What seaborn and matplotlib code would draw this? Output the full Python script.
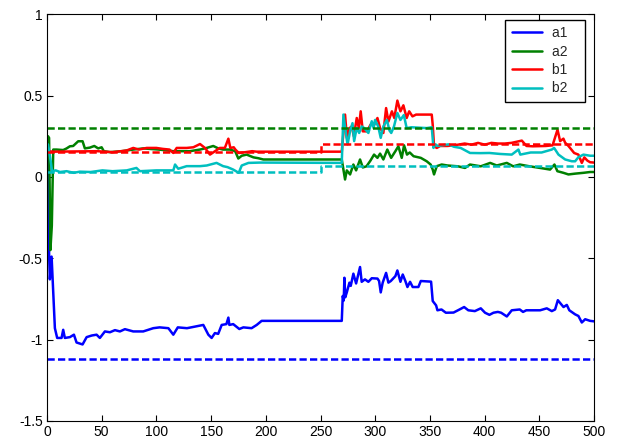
import numpy as np
import pandas as pd
import matplotlib
matplotlib.use("Agg")
import matplotlib.pyplot as plt
import seaborn as sns

# ---- estimated parameter traces ----
a1_x = [1, 2, 2.7, 4.3, 7.3, 9.4, 13.4, 14.9, 16.4, 21, 24.7, 27.1, 32.6, 36.3, 41, 45.4, 48.4, 53,
        57.6, 62.2, 66.7, 71.3, 78.9, 88, 97.2, 103, 111, 115.5, 119.6, 128, 135.5, 142.9, 147.5,
        150.5, 153.5, 156.5, 159.7, 164, 165.8, 166.7, 170.2, 175.8, 179.5, 187, 191.7, 196.2,
        269.4, 270.3, 271.2, 271.8, 272.6, 274, 276.4, 277.6, 280, 282.5, 286.1, 287.6, 290.6,
        293.7, 296.8, 302, 303.5, 305, 306.8, 309.9, 312, 314.2, 318.4, 320.2, 323, 325.1, 327.5,
        329.4, 331.8, 334.2, 339.4, 341.6, 351, 352.5, 355.6, 356.8, 360.5, 364.5, 371.5, 377,
        381.2, 385, 391, 396.4, 400.3, 404.3, 408, 412, 415, 420.2, 424.7, 432, 435, 438, 444,
        450.6, 456.7, 461.3, 464.3, 466.8, 469.5, 472, 475, 477.3, 482.6, 485.6, 488.7, 491.8,
        496.3, 500]
a1_y = [0.10, -0.47, -0.63, -0.49, -0.93, -0.99, -0.99, -0.94, -0.99, -0.985, -0.97, -1.018,
        -1.03, -0.985, -0.975, -0.97, -0.99, -0.95, -0.955, -0.942, -0.95, -0.936, -0.95, -0.95,
        -0.93, -0.925, -0.93, -0.97, -0.925, -0.93, -0.92, -0.91, -0.97, -0.99, -0.96, -0.965,
        -0.91, -0.905, -0.865, -0.91, -0.905, -0.935, -0.925, -0.93, -0.91, -0.885,
        -0.885, -0.732, -0.76, -0.62, -0.74, -0.71, -0.65, -0.67, -0.595, -0.655, -0.554, -0.645,
        -0.63, -0.645, -0.623, -0.625, -0.64, -0.71, -0.65, -0.59, -0.65, -0.64, -0.61, -0.575,
        -0.645, -0.6, -0.64, -0.677, -0.645, -0.677, -0.677, -0.64, -0.644, -0.763, -0.79, -0.82,
        -0.815, -0.835, -0.834, -0.815, -0.8, -0.82, -0.825, -0.808, -0.835, -0.848, -0.835,
        -0.83, -0.835, -0.858, -0.82, -0.815, -0.83, -0.82, -0.82, -0.82, -0.808, -0.825, -0.815,
        -0.758, -0.78, -0.8, -0.787, -0.82, -0.845, -0.855, -0.895, -0.875, -0.885, -0.888]

a2_x = [1, 2, 3.2, 4.5, 5.8, 8.8, 14.9, 18, 21, 24, 28.6, 32.6, 34.7, 39.3, 43.3, 46.9, 50, 52,
        57.6, 68.5, 78.9, 88, 102.2, 115.5, 130.7, 139.9, 146, 152, 156.6, 161, 167.3, 172,
        174.9, 178, 182.5, 188.7, 193, 197.7, 269.4, 272.4, 274, 277, 280, 282.5, 286.1, 288.6,
        292, 295.6, 298.9, 302, 304.4, 307.4, 311, 314.5, 318.4, 321.1, 324.2, 326.3, 329, 331.5,
        335, 341.6, 347, 350.6, 352.5, 353.7, 356.2, 360.7, 366, 375.6, 382, 386.5, 396.4, 405,
        411, 420.2, 426, 432, 441, 450.6, 459.7, 463.7, 466.4, 471.9, 476.5, 482.6, 490.2,
        496.3, 500]
a2_y = [0.25, 0.24, -0.45, -0.3, 0.168, 0.168, 0.165, 0.175, 0.188, 0.19, 0.219, 0.219, 0.175,
        0.18, 0.19, 0.175, 0.182, 0.158, 0.152, 0.158, 0.168, 0.175, 0.168, 0.158, 0.158, 0.168,
        0.178, 0.19, 0.175, 0.168, 0.168, 0.158, 0.113, 0.13, 0.137, 0.12, 0.115, 0.107, 0.107,
        -0.016, 0.04, 0.015, 0.076, 0.04, 0.107, 0.058, 0.065, 0.1, 0.137, 0.117, 0.143, 0.107,
        0.168, 0.117, 0.158, 0.188, 0.117, 0.194, 0.137, 0.15, 0.127, 0.117, 0.096, 0.076,
        0.045, 0.015, 0.066, 0.076, 0.07, 0.065, 0.055, 0.076, 0.065, 0.086, 0.07, 0.086, 0.065,
        0.076, 0.065, 0.055, 0.045, 0.076, 0.035, 0.025, 0.015, 0.02, 0.025, 0.03, 0.03]

b1_x = [1, 6, 46, 60, 72.7, 78.9, 84, 91.2, 100, 106, 112, 115.5, 118.6, 127.7, 133.8, 139.9,
        144.4, 149, 153.6, 158, 162.6, 165.8, 167.6, 170.7, 172.2, 175.3, 181.4, 187.5, 191.7,
        269.4, 272.4, 274.1, 276.5, 278.6, 280.4, 283.1, 285, 286.7, 288.6, 292.5, 295.6, 299,
        302, 304.4, 307.4, 309.9, 312, 315.2, 317.4, 320.2, 323, 325.7, 328.7, 331, 334, 337.3,
        351.6, 352.5, 353.7, 356.2, 359.3, 365.8, 371.9, 375.6, 381.7, 387.8, 393.9, 400, 406.1,
        412.2, 418.3, 424.4, 433.9, 438.2, 444, 455.8, 462, 466.5, 468.9, 471.9, 473.5, 476.5,
        481.7, 485.6, 488.7, 491, 493.8, 496.3, 500]
b1_y = [0.158, 0.155, 0.158, 0.152, 0.162, 0.178, 0.168, 0.178, 0.178, 0.172, 0.168, 0.147,
        0.178, 0.178, 0.182, 0.202, 0.178, 0.137, 0.158, 0.178, 0.178, 0.235, 0.178, 0.182,
        0.168, 0.147, 0.152, 0.158, 0.155, 0.155, 0.383, 0.24, 0.3, 0.31, 0.25, 0.362, 0.3,
        0.403, 0.28, 0.28, 0.32, 0.32, 0.362, 0.3, 0.27, 0.423, 0.34, 0.403, 0.362, 0.469, 0.403,
        0.44, 0.362, 0.403, 0.372, 0.383, 0.383, 0.32, 0.188, 0.178, 0.19, 0.19, 0.194, 0.198,
        0.205, 0.198, 0.209, 0.198, 0.209, 0.205, 0.205, 0.209, 0.223, 0.19, 0.188, 0.19, 0.194,
        0.29, 0.22, 0.235, 0.21, 0.19, 0.147, 0.137, 0.086, 0.12, 0.1, 0.09, 0.088]

b2_x = [1, 3.5, 4.7, 8, 12, 18, 24.6, 30, 40, 50.7, 60, 73, 81.8, 85, 100, 115.5, 117.1, 120,
        127.7, 139.9, 146, 155, 161, 165, 170.2, 175.3, 178, 184.2, 194.9, 269.4, 270.9, 273.3,
        274.7, 277, 279.2, 280.7, 283, 285.3, 287.6, 290, 293.7, 296.8, 298.5, 299.8, 302.7,
        305, 307.4, 310.6, 313, 314.6, 317.1, 320.2, 323, 326.1, 328.7, 333, 347, 351.6, 353.2,
        355, 357, 366.9, 372, 378, 386.6, 396, 404.3, 414, 424.7, 430.8, 432.5, 442, 452, 461.3,
        463.4, 467.4, 473.5, 479.6, 482.6, 485.6, 490.2, 496.3, 500]
b2_y = [0.2, 0.096, 0.035, 0.04, 0.03, 0.035, 0.025, 0.032, 0.03, 0.04, 0.035, 0.04, 0.055,
        0.035, 0.04, 0.04, 0.076, 0.05, 0.066, 0.066, 0.07, 0.086, 0.066, 0.06, 0.045, 0.025,
        0.07, 0.086, 0.088, 0.086, 0.383, 0.26, 0.2, 0.28, 0.33, 0.22, 0.3, 0.27, 0.31, 0.3,
        0.27, 0.342, 0.3, 0.35, 0.31, 0.24, 0.31, 0.35, 0.285, 0.27, 0.31, 0.393, 0.35, 0.38,
        0.3, 0.305, 0.3, 0.305, 0.178, 0.2, 0.19, 0.2, 0.185, 0.178, 0.147, 0.146, 0.147, 0.141,
        0.137, 0.168, 0.137, 0.15, 0.15, 0.168, 0.178, 0.137, 0.107, 0.096, 0.096, 0.121, 0.137,
        0.13, 0.13]

# ---- reference (true) values, piecewise constant ----
ref_x = [0, 250, 500]
a1_ref = [-1.12, -1.12, -1.12]
a2_ref = [0.30, 0.30, 0.30]
b1_ref = [0.15, 0.20, 0.20]
b2_ref = [0.03, 0.07, 0.07]

labels = ["a1", "a2", "b1", "b2"]
colors = ["#0000ff", "#008000", "#ff0000", "#00bfbf"]
x_ticks = [0, 50, 100, 150, 200, 250, 300, 350, 400, 450, 500]
y_ticks = [-1.5, -1, -0.5, 0, 0.5, 1]
y_ticklabels = ["-1.5", "-1", "-0.5", "0", "0.5", "1"]

sns.set_theme(style="ticks")
plt.rcParams["font.family"] = ["Liberation Sans", "DejaVu Sans"]
plt.rcParams["xtick.direction"] = "in"
plt.rcParams["ytick.direction"] = "in"

fig = plt.figure(figsize=(6.17, 4.44), dpi=100)
ax = fig.add_axes([0.076, 0.052, 0.887, 0.916])

series = [(a1_x, a1_y), (a2_x, a2_y), (b1_x, b1_y), (b2_x, b2_y)]
refs = [a1_ref, a2_ref, b1_ref, b2_ref]

for (xs, ys), lab, col in zip(series, labels, colors):
    sns.lineplot(x=xs, y=ys, color=col, label=lab, linewidth=1.8,
                 estimator=None, sort=False, ax=ax)

for ry, col in zip(refs, colors):
    sns.lineplot(x=ref_x, y=ry, color=col, linewidth=1.8, estimator=None,
                 sort=False, drawstyle="steps-post", ax=ax, legend=False,
                 linestyle=(0, (2.9, 1.3)))

ax.set_xlim(0, 500)
ax.set_ylim(-1.5, 1)
ax.set_xticks(x_ticks)
ax.set_yticks(y_ticks)
ax.set_yticklabels(y_ticklabels)
ax.tick_params(axis="both", which="both", direction="in", length=4, width=0.8,
               top=True, right=True, labelsize=10, colors="black", pad=3)
for sp in ax.spines.values():
    sp.set_visible(True)
    sp.set_linewidth(0.8)
    sp.set_color("black")

# legend entries carry a little trailing room, like the classic legend box
handles, _ = ax.get_legend_handles_labels()
leg = ax.legend(handles, [f"{t}   " for t in labels], loc="upper right",
                bbox_to_anchor=(0.984, 0.986), frameon=True,
                fancybox=False, shadow=False, fontsize=10, handlelength=2.2,
                handletextpad=0.7, labelspacing=0.32, borderpad=0.45, borderaxespad=0)
leg.get_frame().set_edgecolor("black")
leg.get_frame().set_linewidth(1.0)
leg.get_frame().set_alpha(1)

fig.savefig("out.png", dpi=100)
